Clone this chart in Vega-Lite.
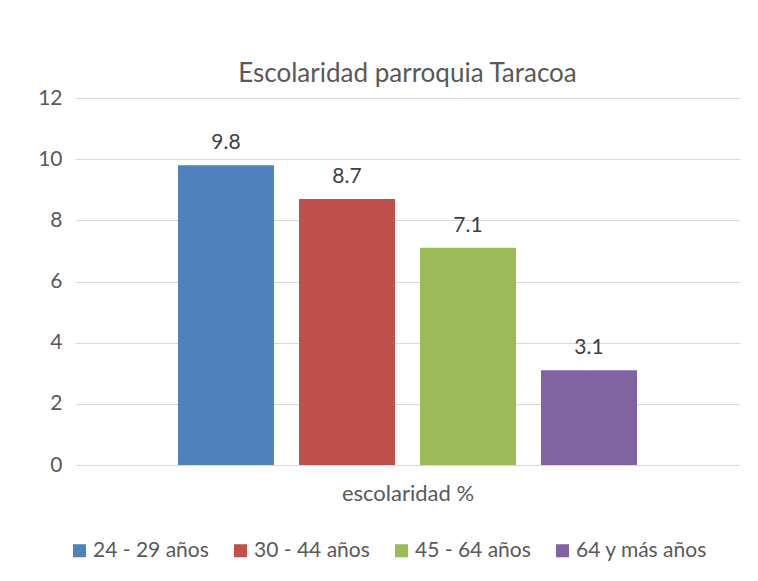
{
  "$schema": "https://vega.github.io/schema/vega-lite/v6.json",
  "width": 665,
  "height": 367,
  "autosize": {"type": "none"},
  "padding": {"left": 75, "top": 98, "right": 18, "bottom": 116},
  "background": "white",
  "config": {
    "view": {"stroke": null},
    "font": "Lato",
    "axis": {"labelFont": "Lato", "titleFont": "Lato"},
    "legend": {"labelFont": "Lato"}
  },
  "title": {
    "text": "Escolaridad parroquia Taracoa",
    "font": "Lato",
    "fontSize": 26,
    "fontWeight": "normal",
    "color": "#595959",
    "offset": 0,
    "anchor": "middle"
  },
  "data": {
    "values": [
      {"grupo": "24 - 29 años", "valor": 9.8},
      {"grupo": "30 - 44 años", "valor": 8.7},
      {"grupo": "45 - 64 años", "valor": 7.1},
      {"grupo": "64 y más años", "valor": 3.1}
    ]
  },
  "encoding": {
    "x": {
      "field": "grupo",
      "type": "nominal",
      "sort": null,
      "scale": {"paddingInner": 0.2066, "paddingOuter": 0.851},
      "axis": {
        "title": "escolaridad %",
        "labels": false,
        "ticks": false,
        "domain": true,
        "domainColor": "#d9d9d9",
        "titleFontSize": 22,
        "titleFontWeight": "normal",
        "titleColor": "#595959",
        "titlePadding": 18
      }
    },
    "y": {
      "field": "valor",
      "type": "quantitative",
      "scale": {"domain": [0, 12]},
      "axis": {
        "title": null,
        "values": [0, 2, 4, 6, 8, 10, 12],
        "domain": false,
        "ticks": false,
        "gridColor": "#d9d9d9",
        "labelFontSize": 21,
        "labelColor": "#595959",
        "labelPadding": 13
      }
    }
  },
  "layer": [
    {
      "mark": {"type": "bar"},
      "encoding": {
        "color": {
          "field": "grupo",
          "type": "nominal",
          "sort": null,
          "scale": {
            "domain": ["24 - 29 años", "30 - 44 años", "45 - 64 años", "64 y más años"],
            "range": ["#4F81BD", "#C0504D", "#9BBB59", "#8064A2"]
          },
          "legend": {
            "title": null,
            "orient": "none",
            "direction": "horizontal",
            "legendX": -6,
            "legendY": 442,
            "symbolType": "square",
            "symbolSize": 170,
            "symbolStrokeWidth": 0,
            "labelFontSize": 21,
            "labelColor": "#595959",
            "labelOffset": 3,
            "columnPadding": 21
          }
        }
      }
    },
    {
      "mark": {"type": "text", "dy": -22, "fontSize": 21, "color": "#404040", "font": "Lato"},
      "encoding": {
        "text": {"field": "valor", "type": "quantitative", "format": ".1f"}
      }
    }
  ]
}
